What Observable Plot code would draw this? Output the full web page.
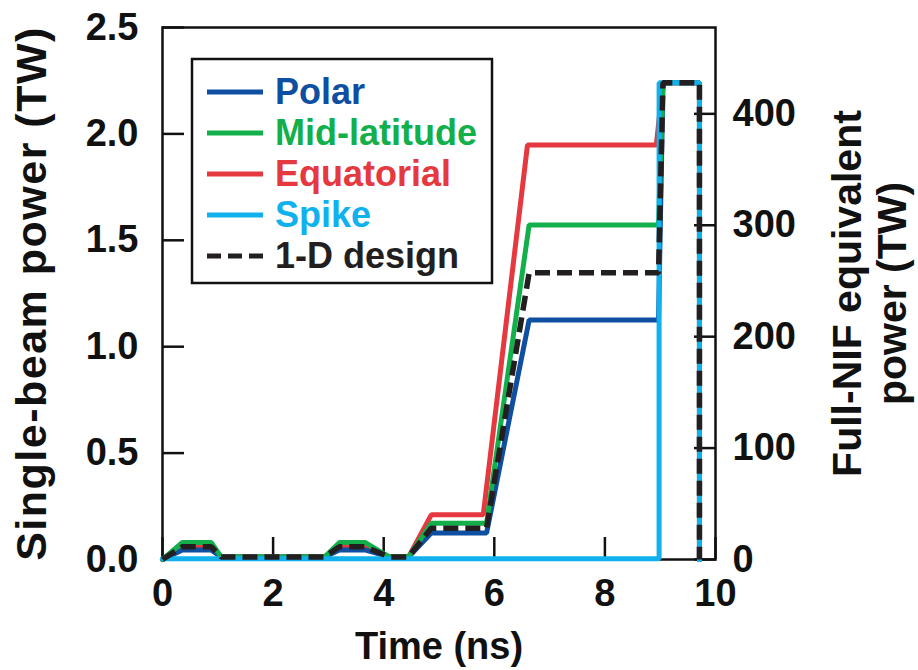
<!DOCTYPE html>
<html>
<head>
<meta charset="utf-8">
<script src="https://cdn.jsdelivr.net/npm/d3@7"></script>
<script src="https://cdn.jsdelivr.net/npm/@observablehq/plot@0.6"></script>
<style>
  html, body { margin: 0; padding: 0; background: #fff; }
</style>
</head>
<body>
<div id="chart"></div>
<script>
// ---- data ----
const seriesNames  = ["Polar", "Mid-latitude", "Equatorial", "Spike", "1-D design"];
const seriesColors = ["#0f4fa2", "#12af4b", "#e5383f", "#10b1ec", "#231f20"];

const pulseTime    = [0, 0.36, 0.88, 1.06, 2.93, 3.2, 3.66, 4.1, 4.45, 4.86, 5.86, 6.63, 8.97, 9.05, 9.71, 9.71];
const equatTime    = [0, 0.36, 0.88, 1.06, 2.93, 3.2, 3.66, 4.1, 4.45, 4.86, 5.8, 6.6, 8.93, 9.05, 9.71, 9.71];
const polarPower   = [0, 0.045, 0.045, 0.012, 0.012, 0.045, 0.045, 0.012, 0.012, 0.124, 0.124, 1.125, 1.125, 2.24, 2.24, 0];
const midPower     = [0, 0.08, 0.08, 0.012, 0.012, 0.08, 0.08, 0.012, 0.012, 0.17, 0.17, 1.572, 1.572, 2.24, 2.24, 0];
const equatPower   = [0, 0.065, 0.065, 0.012, 0.012, 0.065, 0.065, 0.012, 0.012, 0.21, 0.21, 1.948, 1.948, 2.24, 2.24, 0];
const designPower  = [0, 0.06, 0.06, 0.012, 0.012, 0.06, 0.06, 0.012, 0.012, 0.147, 0.147, 1.347, 1.347, 2.24, 2.24, 0];
const spikeTime    = [0, 8.98, 8.98, 9.71, 9.71];
const spikePower   = [0.004, 0.004, 2.24, 2.24, 0];

const xTicks   = [0, 2, 4, 6, 8, 10];
const yTicks   = [0, 0.5, 1.0, 1.5, 2.0, 2.5];
const nifTicks = [0, 100, 200, 300, 400];
const beamFactor = 191; // full-NIF TW per single-beam TW

const xLabel = "Time (ns)";
const yLabel = "Single-beam power (TW)";
const y2Label = "Full-NIF equivalent\npower (TW)";

// ---- build rows ----
const rows = (name, ts, ps) => ts.map((t, i) => ({series: name, time: t, power: ps[i]}));
const polar  = rows(seriesNames[0], pulseTime, polarPower);
const mid    = rows(seriesNames[1], pulseTime, midPower);
const equat  = rows(seriesNames[2], equatTime, equatPower);
const spike  = rows(seriesNames[3], spikeTime, spikePower);
const design = rows(seriesNames[4], pulseTime, designPower);

const font = "'Liberation Sans', Arial, Helvetica, sans-serif";
const lw = 5;

const plot = Plot.plot({
  width: 918,
  height: 670,
  marginLeft: 162,
  marginRight: 203,
  marginTop: 27,
  marginBottom: 111,
  x: {domain: [0, 10]},
  y: {domain: [0, 2.5]},
  style: {fontFamily: font, fontWeight: "bold", fontSize: "38px", color: "#111", background: "#fff"},
  marks: [
    Plot.frame({stroke: "#111", strokeWidth: 2.5}),
    Plot.axisX(xTicks, {tickSize: -22, tickPadding: 42, strokeWidth: 2.5, label: null, fontSize: 38, fontWeight: "bold"}),
    Plot.axisY(yTicks, {anchor: "left", tickSize: -22, tickPadding: 46, strokeWidth: 2.5, tickFormat: d3.format(".1f"), label: null, fontSize: 38, fontWeight: "bold"}),
    Plot.axisY(nifTicks.map(v => v / beamFactor), {anchor: "right", tickSize: -22, tickPadding: 39, strokeWidth: 2.5, tickFormat: d => String(Math.round(d * beamFactor)), label: null, fontSize: 38, fontWeight: "bold"}),
    Plot.line(equat,  {x: "time", y: "power", stroke: seriesColors[2], strokeWidth: lw, strokeLinejoin: "miter"}),
    Plot.line(polar,  {x: "time", y: "power", stroke: seriesColors[0], strokeWidth: lw, strokeLinejoin: "miter"}),
    Plot.line(mid,    {x: "time", y: "power", stroke: seriesColors[1], strokeWidth: lw, strokeLinejoin: "miter"}),
    Plot.line(spike,  {x: "time", y: "power", stroke: seriesColors[3], strokeWidth: lw, strokeLinejoin: "miter"}),
    Plot.line(design, {x: "time", y: "power", stroke: seriesColors[4], strokeWidth: lw + 0.5, strokeDasharray: "15,7", strokeLinecap: "butt", strokeLinejoin: "miter"}),
    Plot.text([yLabel], {text: d => d, frameAnchor: "left", dx: -130, rotate: -90, textAnchor: "middle", lineAnchor: "middle", fontSize: 43, fontWeight: "bold", fill: "#111"}),
    Plot.text([y2Label], {text: d => d, frameAnchor: "right", dx: 154, rotate: -90, textAnchor: "middle", lineAnchor: "middle", fontSize: 41, lineHeight: 1.1, fontWeight: "bold", fill: "#111"}),
    Plot.text([xLabel], {text: d => d, frameAnchor: "bottom", dy: 87, textAnchor: "middle", lineAnchor: "middle", fontSize: 38, fontWeight: "bold", fill: "#111"})
  ]
});

document.getElementById("chart").appendChild(plot);

const svg = d3.select(plot);
svg.selectAll("text").filter(function () { return this.textContent === yLabel; })
  .attr("letter-spacing", "1.5px");

// ---- legend ----
const lg = svg.append("g").attr("font-family", font).attr("font-weight", "bold").attr("text-anchor", "start");
lg.append("rect").attr("x", 192).attr("y", 59).attr("width", 300).attr("height", 224)
  .attr("fill", "#fff").attr("stroke", "#111").attr("stroke-width", 2.5);
seriesNames.forEach((name, i) => {
  const yy = 92 + i * 41;
  lg.append("line").attr("x1", 207).attr("x2", 263).attr("y1", yy).attr("y2", yy)
    .attr("stroke", seriesColors[i]).attr("stroke-width", lw)
    .attr("stroke-dasharray", i === 4 ? "14,7" : null);
  lg.append("text").attr("x", 275).attr("y", yy + 12).attr("font-size", 36)
    .attr("text-anchor", "start").attr("fill", seriesColors[i]).text(name);
});
</script>
</body>
</html>
